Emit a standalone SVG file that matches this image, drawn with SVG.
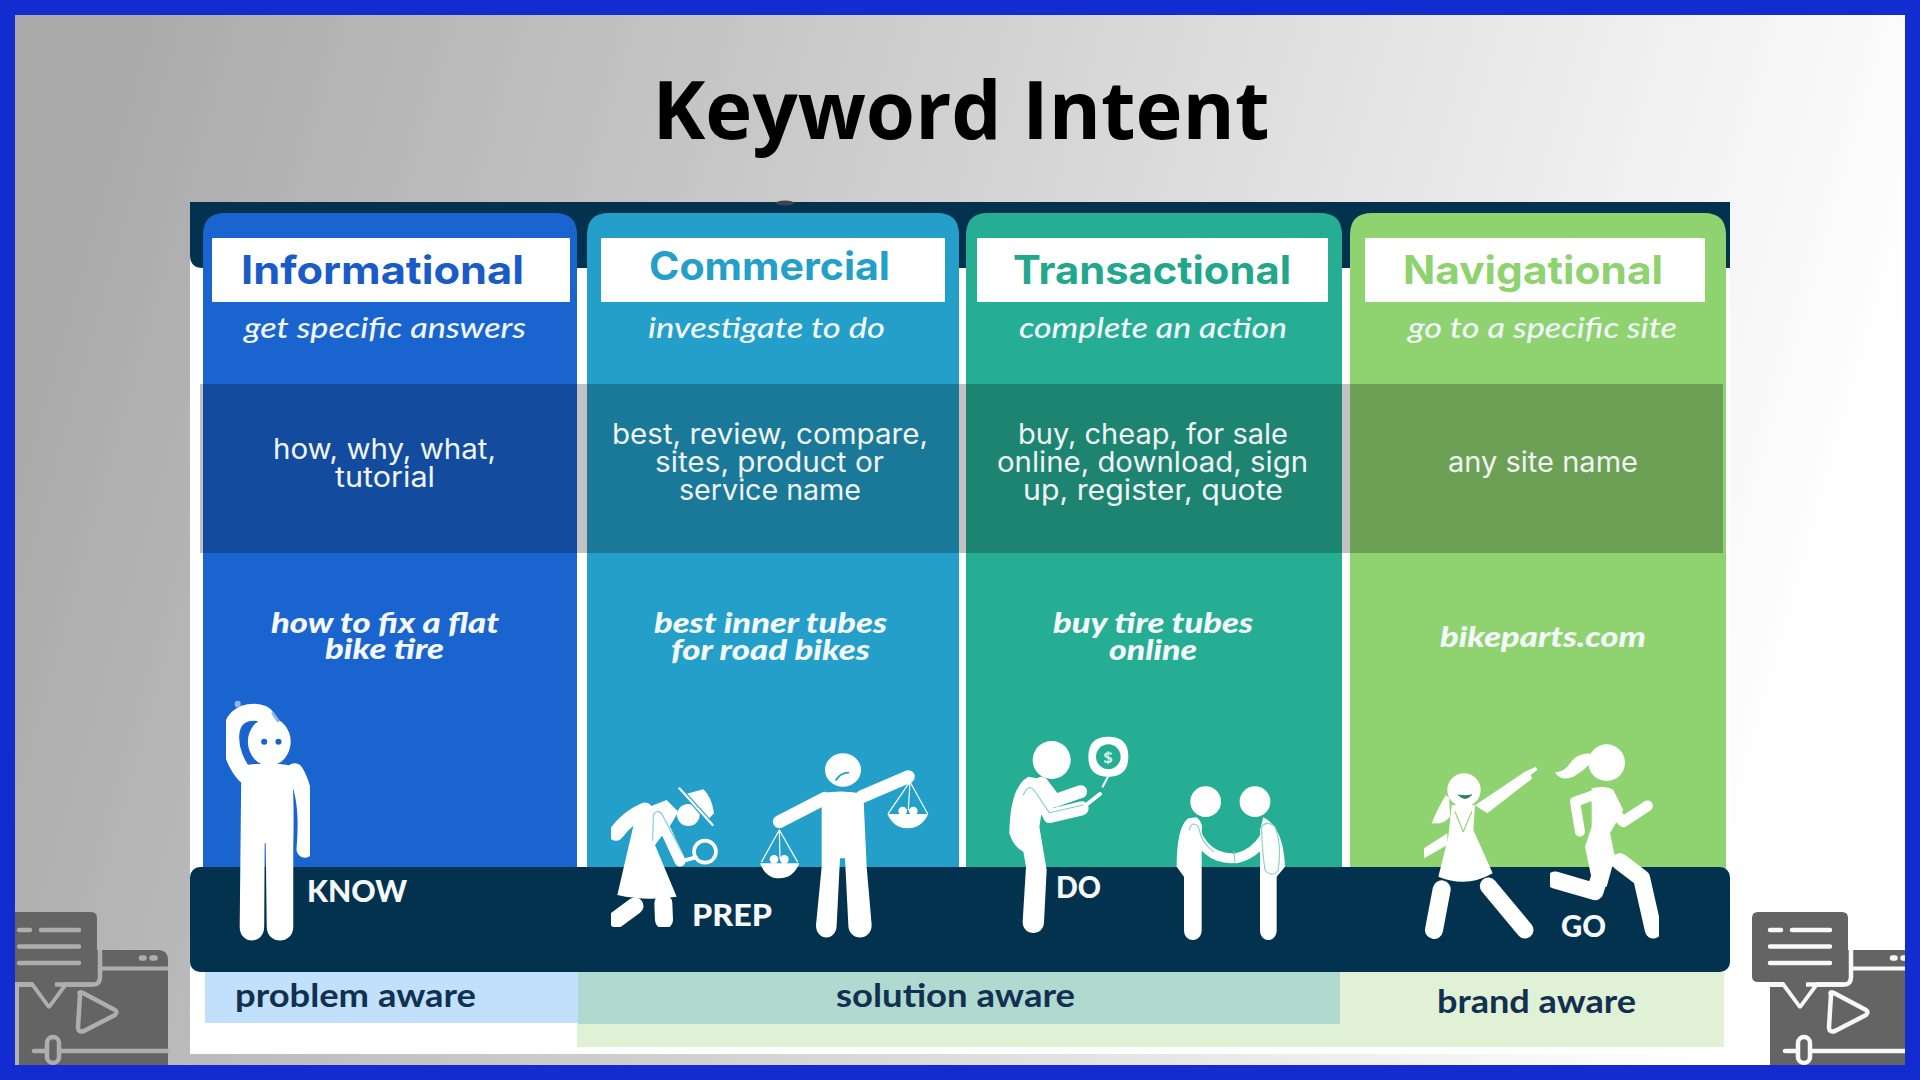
<svg xmlns="http://www.w3.org/2000/svg" xmlns:xlink="http://www.w3.org/1999/xlink" width="1920" height="1080" viewBox="0 0 1920 1080">
<defs>
<linearGradient id="bg" x1="0" y1="0.42" x2="1" y2="0.58"><stop offset="0" stop-color="#aaaaaa"/><stop offset="0.95" stop-color="#ffffff"/></linearGradient>
<filter id="soft" x="-5%" y="-5%" width="110%" height="110%"><feGaussianBlur stdDeviation="0.7"/></filter>
<g id="icon">
<path d="M50 185V70H189Q199 70 199 80V185Z" fill="#646464"/>
<path d="M131 88.500H199" fill="none" stroke="currentColor" stroke-width="4"/>
<path d="M64 104.500H124Q131 104.500 131 97V70" fill="none" stroke="currentColor" stroke-width="4.500"/>
<path d="M50 104.500H64L80 126L96 104.500" fill="none" stroke="currentColor" stroke-width="5" stroke-linejoin="round"/>
<path d="M38 32H122Q128 32 128 38V96Q128 102 122 102H96L80 124L64 102H38Q32 102 32 96V38Q32 32 38 32Z" fill="#646464"/>
<path d="M86 104.500H124" fill="none" stroke="currentColor" stroke-width="4.500"/>
<g fill="none" stroke="currentColor" stroke-width="4.500" stroke-linecap="round">
<path d="M50 50H61M72 50H110M50 66.500H110M50 83H110"/>
<path d="M172.500 78H175M183 78H186" stroke-width="5.500"/>
<path d="M111 115Q109 111 114 113L146 130Q149 132 146 135L115 151Q109 153 109 147Z" stroke-linejoin="round"/>
<path d="M65 171H77M90 171H199"/>
<rect x="78" y="157" width="12" height="26" rx="6"/>
</g>
</g>
</defs>
<style>
.h{font-family:Inter,"Noto Sans",sans-serif;font-weight:700;font-size:39px;text-anchor:middle}
.s{font-family:Lato,"Noto Sans",sans-serif;font-style:italic;font-weight:500;font-size:29px;fill:#f2f7fb;text-anchor:middle}
.k{font-family:Inter,"Noto Sans",sans-serif;font-weight:400;font-size:28px;fill:#f0f4f4;text-anchor:middle}
.e{font-family:Lato,"Noto Sans",sans-serif;font-style:italic;font-weight:900;font-size:29px;fill:#f4f8fb;text-anchor:middle}
.v{font-family:Lato,"Noto Sans",sans-serif;font-weight:900;font-size:31px;fill:#f5f7f8}
.a{font-family:Lato,"Noto Sans",sans-serif;font-weight:700;font-size:33px;fill:#12304f;text-anchor:middle}
.w{fill:#fff}
.l{fill:none;stroke:#fff;stroke-linecap:round;stroke-linejoin:round;vector-effect:non-scaling-stroke}
.o{fill:none;stroke-linecap:round;stroke-linejoin:round;stroke-width:1.100;vector-effect:non-scaling-stroke}
</style>
<rect width="1920" height="1080" fill="url(#bg)"/>
<text x="961" y="139" font-family="Open Sans,Noto Sans,sans-serif" font-weight="700" font-size="81" text-anchor="middle" textLength="617" lengthAdjust="spacingAndGlyphs" fill="#000">Keyword Intent</text>

<g id="picture">
<rect x="190" y="202" width="1540" height="852" fill="#fff"/>
<path d="M190 202H1730V268H203Q190 268 190 255Z" fill="#03324f"/>
<ellipse cx="785" cy="203" rx="9" ry="2.500" fill="#3a4650"/>
<path d="M577 1047V972H1724V1047Z" fill="#e0f1d6"/>
<rect x="205" y="972" width="373" height="51" fill="#c0e0fb"/>
<rect x="578" y="972" width="762" height="52" fill="#b0d9d0"/>
</g>

<g id="informational">
<path d="M203 937V235Q203 213 225 213H555Q577 213 577 235V937Z" fill="#1a64d0"/>
<rect x="212" y="238" width="358" height="64" rx="1" fill="#fff"/>
<text class="h" x="382.500" y="284" textLength="283" lengthAdjust="spacingAndGlyphs" fill="#1a5bc8">Informational</text>
<text class="s" x="385" y="338" textLength="282" lengthAdjust="spacingAndGlyphs">get specific answers</text>
</g>
<g id="commercial">
<path d="M587 937V235Q587 213 609 213H937Q959 213 959 235V937Z" fill="#239fc9"/>
<rect x="601" y="238" width="344" height="64" rx="1" fill="#fff"/>
<text class="h" x="769.500" y="280" textLength="241" lengthAdjust="spacingAndGlyphs" fill="#239fc9">Commercial</text>
<text class="s" x="766.500" y="338" textLength="237" lengthAdjust="spacingAndGlyphs">investigate to do</text>
</g>
<g id="transactional">
<path d="M966 937V235Q966 213 988 213H1320Q1342 213 1342 235V937Z" fill="#26ae94"/>
<rect x="977" y="238" width="351" height="64" rx="1" fill="#fff"/>
<text class="h" x="1152" y="284" textLength="278" lengthAdjust="spacingAndGlyphs" fill="#22a78c">Transactional</text>
<text class="s" x="1153" y="338" textLength="268" lengthAdjust="spacingAndGlyphs">complete an action</text>
</g>
<g id="navigational">
<path d="M1350 937V235Q1350 213 1372 213H1704Q1726 213 1726 235V937Z" fill="#8ed36f"/>
<rect x="1365" y="238" width="340" height="64" rx="1" fill="#fff"/>
<text class="h" x="1533" y="284" textLength="260" lengthAdjust="spacingAndGlyphs" fill="#8ed36f">Navigational</text>
<text class="s" x="1542.500" y="338" textLength="269" lengthAdjust="spacingAndGlyphs">go to a specific site</text>
</g>

<rect id="keyword-row" x="200" y="384" width="1523" height="169" fill="#000" fill-opacity="0.24"/>

<g id="keywords">
<text class="k" x="384.500" y="459" textLength="223" lengthAdjust="spacingAndGlyphs">how, why, what,</text>
<text class="k" x="385" y="487" textLength="100" lengthAdjust="spacingAndGlyphs">tutorial</text>
<text class="k" x="770" y="444" textLength="316" lengthAdjust="spacingAndGlyphs">best, review, compare,</text>
<text class="k" x="769.500" y="472" textLength="229" lengthAdjust="spacingAndGlyphs">sites, product or</text>
<text class="k" x="770" y="500" textLength="182" lengthAdjust="spacingAndGlyphs">service name</text>
<text class="k" x="1153" y="444" textLength="270" lengthAdjust="spacingAndGlyphs">buy, cheap, for sale</text>
<text class="k" x="1152.500" y="472" textLength="311" lengthAdjust="spacingAndGlyphs">online, download, sign</text>
<text class="k" x="1153" y="500" textLength="260" lengthAdjust="spacingAndGlyphs">up, register, quote</text>
<text class="k" x="1543" y="472" textLength="190" lengthAdjust="spacingAndGlyphs">any site name</text>
</g>
<g id="examples">
<text class="e" x="385" y="633" textLength="228" lengthAdjust="spacingAndGlyphs">how to fix a flat</text>
<text class="e" x="384.500" y="659" textLength="119" lengthAdjust="spacingAndGlyphs">bike tire</text>
<text class="e" x="770.500" y="633" textLength="233" lengthAdjust="spacingAndGlyphs">best inner tubes</text>
<text class="e" x="770.500" y="660" textLength="199" lengthAdjust="spacingAndGlyphs">for road bikes</text>
<text class="e" x="1153" y="633" textLength="200" lengthAdjust="spacingAndGlyphs">buy tire tubes</text>
<text class="e" x="1153" y="660" textLength="88" lengthAdjust="spacingAndGlyphs">online</text>
<text class="e" x="1543" y="647" textLength="206" lengthAdjust="spacingAndGlyphs">bikeparts.com</text>
</g>

<rect id="stage" x="190" y="867" width="1540" height="105" rx="10" fill="#03324f"/>

<g id="know-figure" transform="translate(180 680) scale(0.5102 0.33333)" filter="url(#soft)">
<ellipse cx="175" cy="185" rx="42" ry="72" class="w"/>
<ellipse cx="165" cy="185" rx="6" ry="9" fill="#1a64d0"/><ellipse cx="193" cy="185" rx="6" ry="9" fill="#1a64d0"/>
<path d="M128 285C92 225 85 110 135 98C158 92 172 105 170 122" class="l" stroke-width="17"/>
<path d="M130 230C115 180 125 135 150 125" class="o" stroke="#1a64d0" style="stroke-width:1.500"/>
<ellipse cx="113" cy="72" rx="6" ry="10" fill="#8fb6ee"/><path d="M182 100L192 122" class="l" style="stroke:#8fb6ee" stroke-width="3"/>
<path d="M120 290L130 255Q180 245 215 256Q225 300 222 500V740C222 795 170 795 170 740L168 490H166L165 740C165 795 117 795 117 740Z" class="w"/>
<path d="M225 275C247 330 250 420 245 508" class="l" stroke-width="17"/>
</g>

<g id="prep-figure" transform="translate(600 780) scale(0.33333)" filter="url(#soft)">
<path d="M110 95L200 60L235 95L215 130L165 195L230 350Q140 365 52 345Z" class="w"/>
<path d="M135 90C100 105 70 130 48 160" class="l" stroke-width="15"/>
<path d="M185 125L240 243" class="l" stroke-width="11"/>
<path d="M158 180L160 105Q175 82 190 110L245 215" class="o" stroke="#7fc6de"/>
<ellipse cx="265" cy="105" rx="34" ry="33" class="w"/>
<path d="M258 42L310 28Q335 50 342 100L325 118Z" class="w"/>
<path d="M238 25L338 135" class="l" style="stroke:#239fc9" stroke-width="4.500"/>
<path d="M238 25L338 135" class="l" stroke-width="2.200"/>
<circle cx="315" cy="215" r="33" fill="none" stroke="#fff" stroke-width="3.600" vector-effect="non-scaling-stroke"/>
<path d="M287 232L240 245" class="l" stroke-width="4"/>
<path d="M105 378L50 418" class="l" stroke-width="17"/>
<path d="M190 370L192 420" class="l" stroke-width="18"/>
</g>
<g id="scale-figure" transform="translate(600 780) scale(0.33333)" filter="url(#soft)">
<ellipse cx="729" cy="-30" rx="54" ry="50" class="w"/>
<path d="M708 0Q722 -22 745 -22" class="o" stroke="#239fc9" style="stroke-width:1.800"/>
<path d="M538 125L675 55M785 50L925 -10" class="l" stroke-width="13"/>
<path d="M665 40Q730 28 790 42L800 260L815 435C815 485 745 485 745 435L735 235L720 235L710 435C710 485 648 485 648 435L665 260Z" class="w"/>
<path d="M538 150L485 245M538 150L592 245M538 150L540 235M930 5L865 100M930 5L982 100M930 5L925 90" class="l" stroke-width="1.200"/>
<path d="M480 250H598Q580 295 538 295Q498 295 480 250Z" class="w"/>
<circle cx="522" cy="238" r="13" class="w"/><circle cx="553" cy="238" r="13" class="w"/>
<path d="M862 102H985Q965 145 922 145Q882 145 862 102Z" class="w"/>
<circle cx="908" cy="93" r="13" class="w"/><circle cx="940" cy="93" r="13" class="w"/>
</g>

<g id="do-figure" transform="translate(1000 730) scale(0.33333)" filter="url(#soft)">
<circle cx="155" cy="90" r="57" class="w"/>
<path d="M85 140Q30 170 28 310Q40 350 70 365L78 410L68 575C68 620 132 620 132 575L140 420L118 290L140 150Z" class="w"/>
<path d="M105 170L150 258L245 235" class="l" stroke-width="14"/>
<path d="M125 160L165 212L242 185" class="l" stroke-width="13"/>
<path d="M70 195Q85 160 102 180L148 248L250 225" class="o" stroke="#7fd2bf"/>
<path d="M262 222L300 192" class="l" stroke-width="4"/>
<path d="M325 20Q385 20 385 80Q385 140 325 140Q265 140 265 80Q265 20 325 20Z" class="w"/>
<path d="M325 138L308 170" class="l" stroke-width="2"/>
<circle cx="325" cy="80" r="37" fill="#26ae94"/>
<text x="325" y="98" font-family="Noto Sans,sans-serif" font-weight="700" font-size="50" text-anchor="middle" fill="#cfeee6">$</text>
</g>
<g id="deal-figure" transform="translate(1000 730) scale(0.33333)" filter="url(#soft)">
<circle cx="617" cy="215" r="46" class="w"/><circle cx="765" cy="215" r="46" class="w"/>
<path d="M565 265Q530 290 530 410L552 440V600C552 640 605 640 605 600V300Q610 280 590 262Z" class="w"/>
<path d="M790 262Q850 290 855 410L830 440V600C830 640 780 640 780 600V300Z" class="w"/>
<path d="M582 290Q610 382 695 385" class="l" stroke-width="10"/>
<path d="M795 320Q765 372 708 385" class="l" stroke-width="10"/>
<path d="M568 300Q575 270 595 290Q605 340 640 365M785 290Q800 270 825 290Q845 340 835 420Q815 445 795 420Q785 350 785 290ZM702 365L705 395" class="o" stroke="#7fd2bf"/>
</g>
<g id="woman-figure" transform="translate(1410 730) scale(0.33333)" filter="url(#soft)">
<circle cx="162" cy="180" r="50" class="w"/>
<path d="M145 195Q165 215 185 195Q165 200 145 195Z" fill="#2f7d55" stroke="#2f7d55" stroke-width="3"/>
<path d="M108 195Q85 230 65 280Q100 285 120 260L118 205Z" class="w"/>
<path d="M195 226L345 125L378 110L382 120L362 135L366 146L232 250Z" class="w"/>
<path d="M112 310L42 355V385L112 345Z" class="w"/>
<path d="M125 225L195 225L190 300L248 430Q170 475 85 440L115 320Z" class="w"/>
<path d="M135 245L160 305L185 245" class="o" stroke="#8ed36f"/>
<path d="M95 478L72 600" class="l" stroke-width="18"/>
<path d="M235 468L345 600" class="l" stroke-width="17"/>
</g>
<g id="runner-figure" transform="translate(1410 730) scale(0.33333)" filter="url(#soft)">
<circle cx="590" cy="98" r="55" class="w"/>
<path d="M540 70Q500 70 480 100Q465 125 435 128Q455 155 490 140Q525 120 540 100Z" class="w"/>
<path d="M545 175Q590 165 610 180L640 240L600 310L615 380L590 470L550 470L525 350L545 290Z" class="w"/>
<path d="M575 187L495 215L510 305" class="l" stroke-width="10"/>
<path d="M580 215L640 275L712 228" class="l" stroke-width="11"/>
<path d="M575 420L555 485L435 450" class="l" stroke-width="17"/>
<path d="M630 395L695 445L730 600" class="l" stroke-width="17"/>
</g>

<g id="stage-labels">
<text class="v" x="307" y="902" textLength="100" lengthAdjust="spacingAndGlyphs">KNOW</text>
<text class="v" x="692" y="926" textLength="80" lengthAdjust="spacingAndGlyphs">PREP</text>
<text class="v" x="1056" y="898" textLength="45" lengthAdjust="spacingAndGlyphs">DO</text>
<text class="v" x="1561" y="937" textLength="45" lengthAdjust="spacingAndGlyphs">GO</text>
</g>
<g id="awareness">
<text class="a" x="355.500" y="1007" textLength="241" lengthAdjust="spacingAndGlyphs">problem aware</text>
<text class="a" x="955.500" y="1007" textLength="239" lengthAdjust="spacingAndGlyphs">solution aware</text>
<text class="a" x="1536.500" y="1013" textLength="199" lengthAdjust="spacingAndGlyphs">brand aware</text>
</g>

<use id="icon-left" xlink:href="#icon" href="#icon" transform="translate(-31 880)" style="color:#aeaeae"/>
<use id="icon-right" xlink:href="#icon" href="#icon" transform="translate(1720 880)" style="color:#f8f8f8"/>
<path id="frame" fill-rule="evenodd" d="M0 0H1920V1080H0ZM15 15V1065H1905V15Z" fill="#132cd0"/>
</svg>
